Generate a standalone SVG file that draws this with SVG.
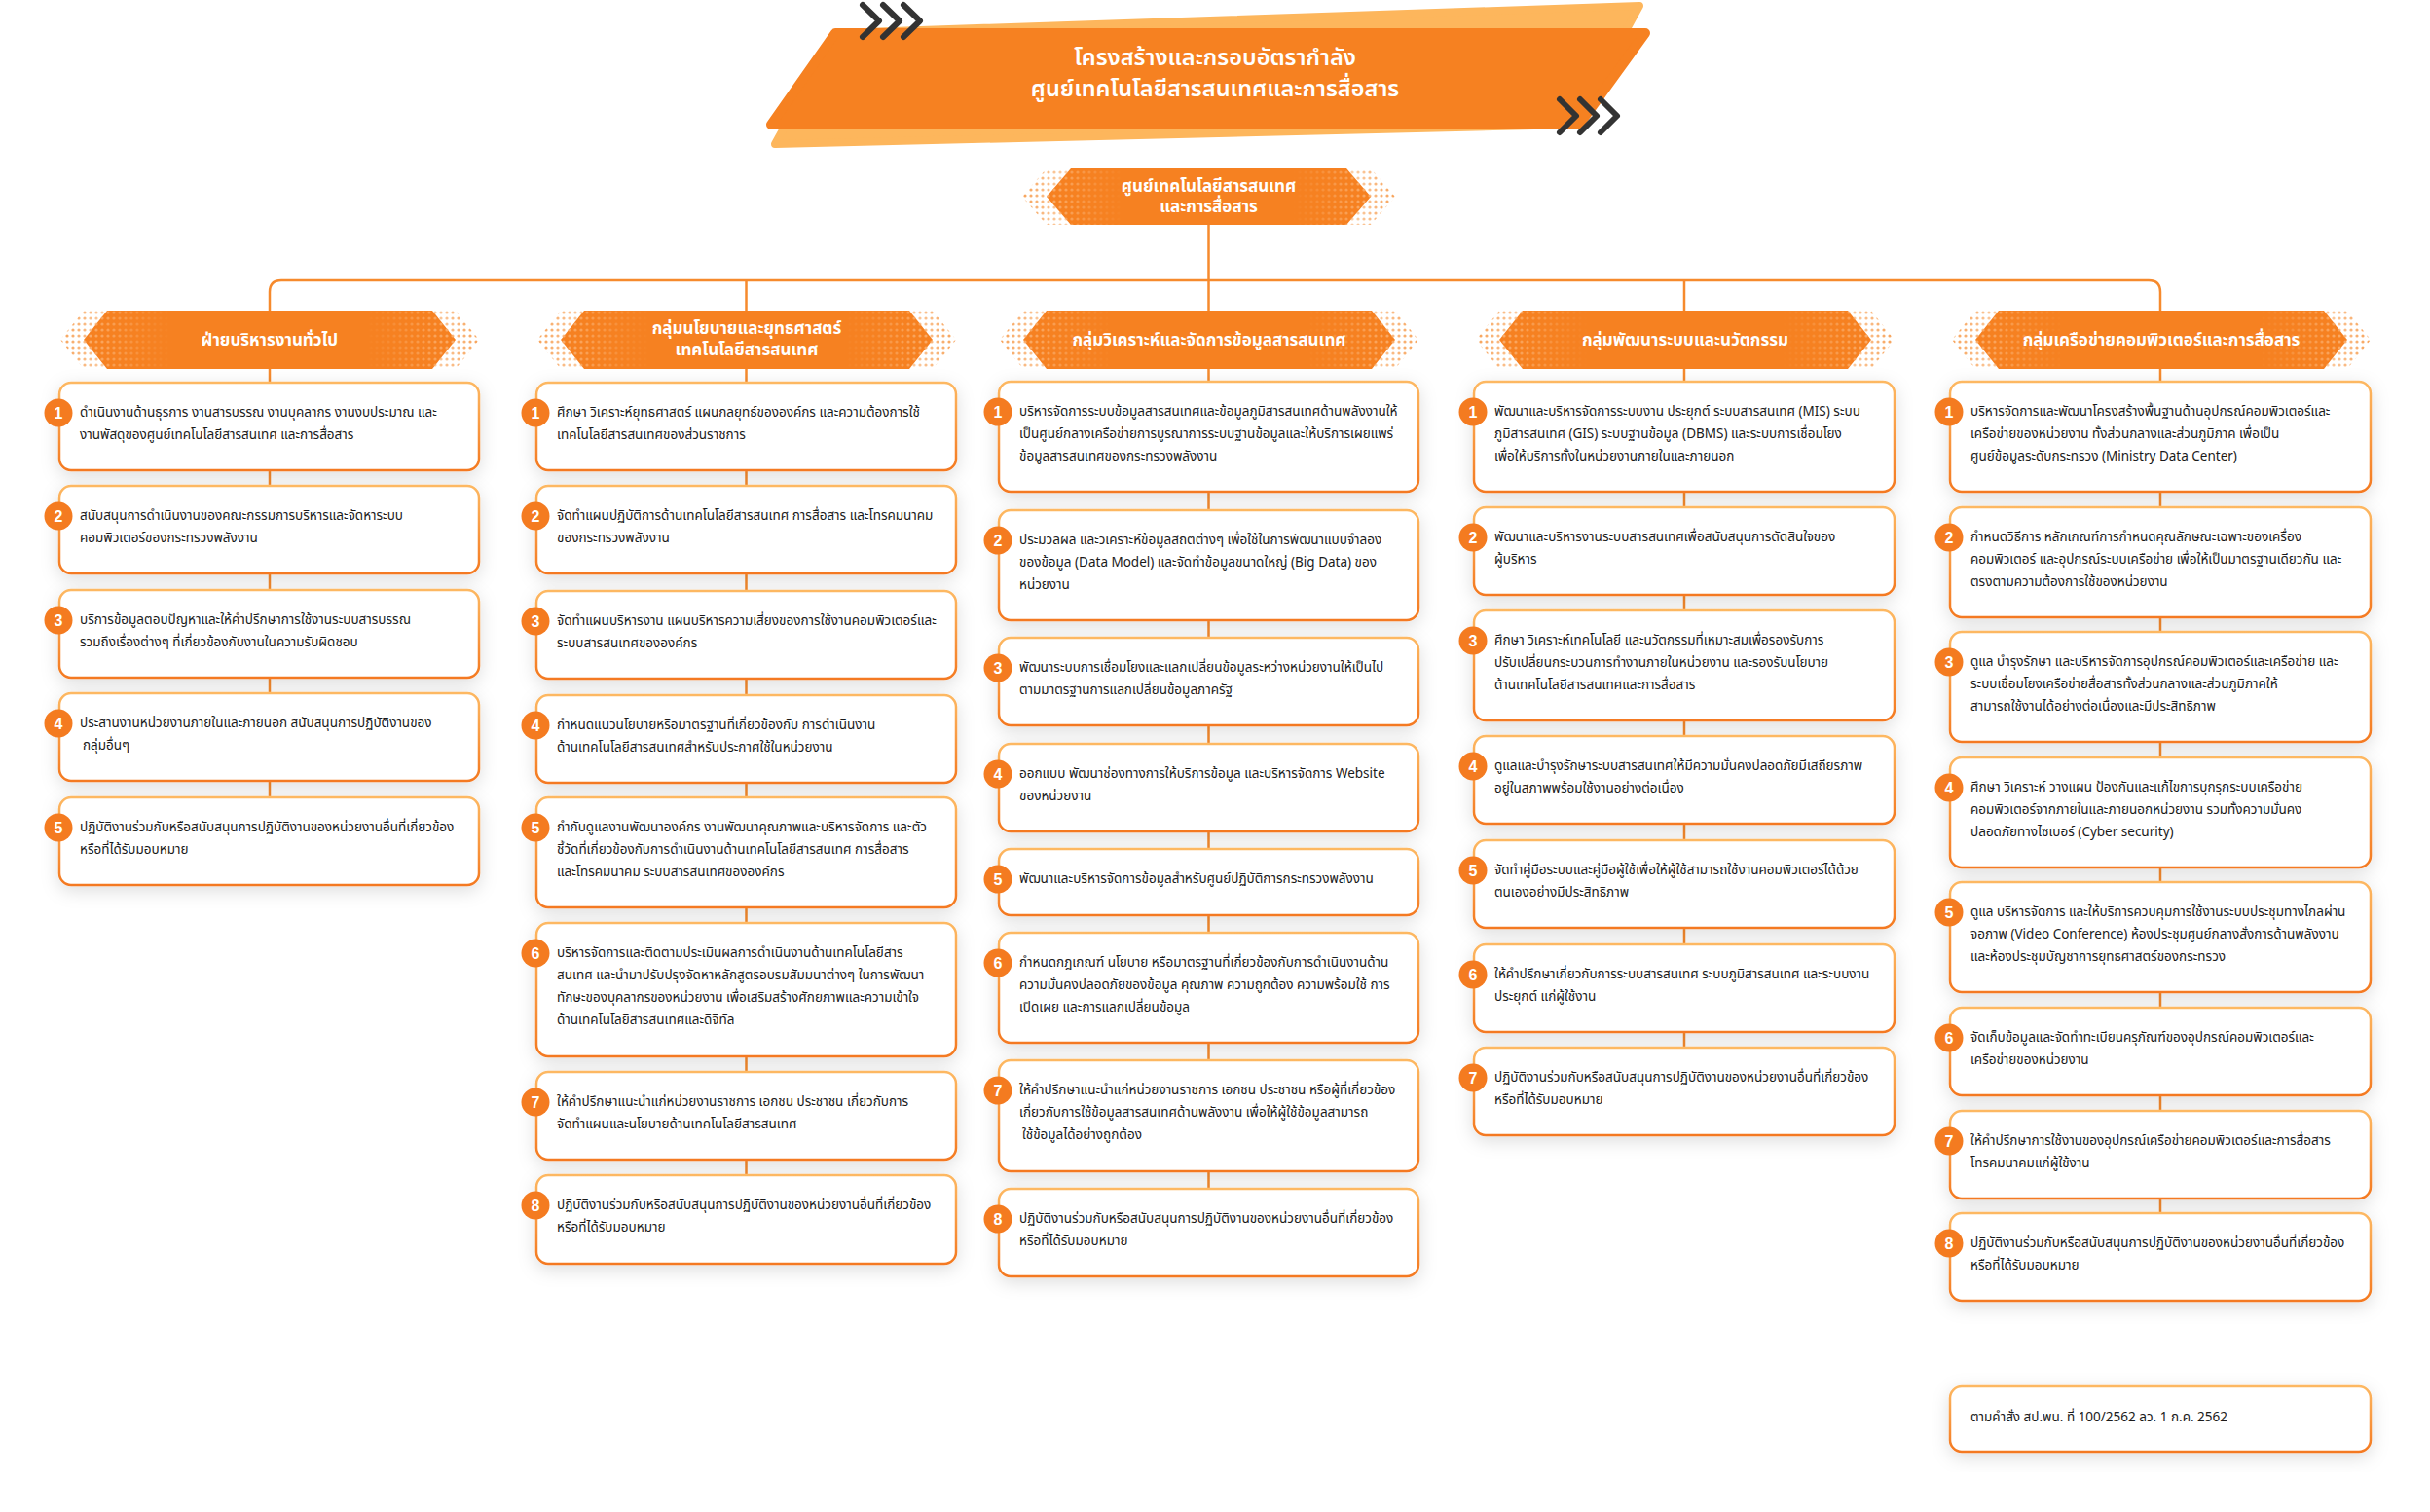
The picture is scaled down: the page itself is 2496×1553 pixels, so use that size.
<svg xmlns="http://www.w3.org/2000/svg" width="2496" height="1553" viewBox="0 0 2496 1553">
<style>
.th{font-family:"Noto Sans Thai","Noto Sans Thai UI","Noto Sans","DejaVu Sans",sans-serif;}
.body{font-size:13.5px;fill:#1a1a1a;}
.hdr{font-size:17px;fill:#fff;font-weight:700;text-anchor:middle;}
.title{font-size:23.5px;fill:#fff;font-weight:600;text-anchor:middle;}
.num{font-family:"Liberation Sans",Arial,sans-serif;font-weight:700;font-size:16px;fill:#fff;text-anchor:middle;}
.box{fill:#fff;stroke:url(#gStroke);stroke-width:2.5;filter:url(#sh);}
.badge{fill:#F47B20;}
.conn{stroke:#F68A2D;stroke-width:2.5;fill:none;}
.hex{fill:#F68121;}
.hexdots{fill:url(#dots);mask:url(#mEnds);}
.hexdots2{fill:url(#dots2);mask:url(#mEnds);}
.chev{fill:none;stroke:#333;stroke-width:6;stroke-linecap:round;stroke-linejoin:round;}
</style>
<defs>
<linearGradient id="gStroke" x1="0" y1="0" x2="0" y2="1"><stop offset="0" stop-color="#FDB862"/><stop offset="1" stop-color="#F47920"/></linearGradient>
<linearGradient id="gEnds" x1="0" y1="0" x2="1" y2="0"><stop offset="0" stop-color="#fff" stop-opacity="1"/><stop offset="0.24" stop-color="#fff" stop-opacity="0"/><stop offset="0.76" stop-color="#fff" stop-opacity="0"/><stop offset="1" stop-color="#fff" stop-opacity="1"/></linearGradient>
<mask id="mEnds" maskContentUnits="objectBoundingBox"><rect x="0" y="0" width="1" height="1" fill="url(#gEnds)"/></mask>
<pattern id="dots" width="6" height="6" patternUnits="userSpaceOnUse"><circle cx="3" cy="3" r="1.6" fill="#F7A35A"/></pattern>
<pattern id="dots2" width="6" height="6" patternUnits="userSpaceOnUse"><circle cx="3" cy="3" r="1.6" fill="#FCC08A"/></pattern>
<filter id="sh" x="-10%" y="-20%" width="120%" height="150%"><feDropShadow dx="0" dy="5" stdDeviation="9" flood-color="#000" flood-opacity="0.13"/></filter>
</defs>
<rect width="2496" height="1553" fill="#fff"/>

<g id="title">
<polygon points="796,148 859,34 1684,6 1617,128" fill="#FDB65C" stroke="#FDB65C" stroke-width="8" stroke-linejoin="round"/>
<polygon points="792,128 858,34 1690,34 1622,128" fill="#F68121" stroke="#F68121" stroke-width="10" stroke-linejoin="round"/>
<path class="chev" d="M886 5 L903 21.5 L886 38 M907 5 L924 21.5 L907 38 M928 5 L945 21.5 L928 38"/>
<path class="chev" d="M1602 102 L1619 119 L1602 136 M1623 102 L1640 119 L1623 136 M1644 102 L1661 119 L1644 136"/>
<text class="th title" y="67"><tspan x="1248">โครงสร้างและกรอบอัตรากำลัง</tspan><tspan x="1248" dy="32">ศูนย์เทคโนโลยีสารสนเทศและการสื่อสาร</tspan></text>
</g>

<g id="connectors">
<path class="conn" d="M1241.5 231 V319"/>
<path class="conn" d="M277 319 V300 Q277 288 289 288 H2207 Q2219 288 2219 300 V319 M766.5 288 V319 M1730 288 V319"/>
<path class="conn" d="M277 379 V393 M277 483 V499 M277 589 V606 M277 696 V712 M277 802 V819"/>
<path class="conn" d="M766.5 379 V393 M766.5 483 V499 M766.5 589 V607 M766.5 697 V714 M766.5 804 V819 M766.5 932 V948 M766.5 1085 V1101 M766.5 1191 V1207"/>
<path class="conn" d="M1241.5 379 V392 M1241.5 505 V524 M1241.5 637 V655 M1241.5 745 V764 M1241.5 854 V872 M1241.5 940 V958 M1241.5 1071 V1089 M1241.5 1203 V1221"/>
<path class="conn" d="M1730 379 V392 M1730 505 V521 M1730 611 V627 M1730 740 V756 M1730 846 V863 M1730 953 V970 M1730 1060 V1076"/>
<path class="conn" d="M2219 379 V392 M2219 505 V521 M2219 634 V649 M2219 762 V778 M2219 891 V906 M2219 1019 V1035 M2219 1125 V1141 M2219 1231 V1246"/>
</g>

<g id="center">
<polygon class="hexdots" points="1050,202 1075,173 1408,173 1433,202 1408,231 1075,231"/>
<polygon class="hex" points="1075,202 1100,173 1383,173 1408,202 1383,231 1100,231"/>
<polygon class="hexdots2" points="1075,202 1100,173 1383,173 1408,202 1383,231 1100,231" opacity="0.7"/>
<text class="th hdr" y="196.5"><tspan x="1241.5">ศูนย์เทคโนโลยีสารสนเทศ</tspan><tspan x="1241.5" dy="21.5">และการสื่อสาร</tspan></text>
</g>

<g id="h1">
<polygon class="hexdots" points="62,349 86,319 468,319 492,349 468,379 86,379"/>
<polygon class="hex" points="86,349 110,319 444,319 468,349 444,379 110,379"/>
<polygon class="hexdots2" points="86,349 110,319 444,319 468,349 444,379 110,379" opacity="0.7"/>
<text class="th hdr" x="277" y="355">ฝ่ายบริหารงานทั่วไป</text>
</g>
<g id="h2">
<polygon class="hexdots" points="552,349 576,319 958,319 982,349 958,379 576,379"/>
<polygon class="hex" points="576,349 600,319 934,319 958,349 934,379 600,379"/>
<polygon class="hexdots2" points="576,349 600,319 934,319 958,349 934,379 600,379" opacity="0.7"/>
<text class="th hdr" y="343"><tspan x="767">กลุ่มนโยบายและยุทธศาสตร์</tspan><tspan x="767" dy="21.5">เทคโนโลยีสารสนเทศ</tspan></text>
</g>
<g id="h3">
<polygon class="hexdots" points="1027,349 1051,319 1433,319 1457,349 1433,379 1051,379"/>
<polygon class="hex" points="1051,349 1075,319 1409,319 1433,349 1409,379 1075,379"/>
<polygon class="hexdots2" points="1051,349 1075,319 1409,319 1433,349 1409,379 1075,379" opacity="0.7"/>
<text class="th hdr" x="1242" y="355">กลุ่มวิเคราะห์และจัดการข้อมูลสารสนเทศ</text>
</g>
<g id="h4">
<polygon class="hexdots" points="1516,349 1540,319 1922,319 1946,349 1922,379 1540,379"/>
<polygon class="hex" points="1540,349 1564,319 1898,319 1922,349 1898,379 1564,379"/>
<polygon class="hexdots2" points="1540,349 1564,319 1898,319 1922,349 1898,379 1564,379" opacity="0.7"/>
<text class="th hdr" x="1731" y="355">กลุ่มพัฒนาระบบและนวัตกรรม</text>
</g>
<g id="h5">
<polygon class="hexdots" points="2005,349 2029,319 2411,319 2435,349 2411,379 2029,379"/>
<polygon class="hex" points="2029,349 2053,319 2387,319 2411,349 2387,379 2053,379"/>
<polygon class="hexdots2" points="2029,349 2053,319 2387,319 2411,349 2387,379 2053,379" opacity="0.7"/>
<text class="th hdr" x="2220" y="355">กลุ่มเครือข่ายคอมพิวเตอร์และการสื่อสาร</text>
</g>

<!-- Column 1 -->
<g id="c1n1"><rect class="box" x="61" y="393" width="431" height="90" rx="12"/><circle class="badge" cx="60" cy="424" r="14.5"/><text class="num" x="60" y="429.5">1</text><text class="th body" y="428"><tspan x="82">ดำเนินงานด้านธุรการ งานสารบรรณ งานบุคลากร งานงบประมาณ และ</tspan><tspan x="82" dy="23">งานพัสดุของศูนย์เทคโนโลยีสารสนเทศ และการสื่อสาร</tspan></text></g>
<g id="c1n2"><rect class="box" x="61" y="499" width="431" height="90" rx="12"/><circle class="badge" cx="60" cy="530" r="14.5"/><text class="num" x="60" y="535.5">2</text><text class="th body" y="534"><tspan x="82">สนับสนุนการดำเนินงานของคณะกรรมการบริหารและจัดหาระบบ</tspan><tspan x="82" dy="23">คอมพิวเตอร์ของกระทรวงพลังงาน</tspan></text></g>
<g id="c1n3"><rect class="box" x="61" y="606" width="431" height="90" rx="12"/><circle class="badge" cx="60" cy="637" r="14.5"/><text class="num" x="60" y="642.5">3</text><text class="th body" y="641"><tspan x="82">บริการข้อมูลตอบปัญหาและให้คำปรึกษาการใช้งานระบบสารบรรณ</tspan><tspan x="82" dy="23">รวมถึงเรื่องต่างๆ ที่เกี่ยวข้องกับงานในความรับผิดชอบ</tspan></text></g>
<g id="c1n4"><rect class="box" x="61" y="712" width="431" height="90" rx="12"/><circle class="badge" cx="60" cy="743" r="14.5"/><text class="num" x="60" y="748.5">4</text><text class="th body" y="747"><tspan x="82">ประสานงานหน่วยงานภายในและภายนอก สนับสนุนการปฏิบัติงานของ</tspan><tspan x="85" dy="23">กลุ่มอื่นๆ</tspan></text></g>
<g id="c1n5"><rect class="box" x="61" y="819" width="431" height="90" rx="12"/><circle class="badge" cx="60" cy="850" r="14.5"/><text class="num" x="60" y="855.5">5</text><text class="th body" y="854"><tspan x="82">ปฏิบัติงานร่วมกับหรือสนับสนุนการปฏิบัติงานของหน่วยงานอื่นที่เกี่ยวข้อง</tspan><tspan x="82" dy="23">หรือที่ได้รับมอบหมาย</tspan></text></g>

<!-- Column 2 -->
<g id="c2n1"><rect class="box" x="551" y="393" width="431" height="90" rx="12"/><circle class="badge" cx="550" cy="424" r="14.5"/><text class="num" x="550" y="429.5">1</text><text class="th body" y="428"><tspan x="572">ศึกษา วิเคราะห์ยุทธศาสตร์ แผนกลยุทธ์ขององค์กร และความต้องการใช้</tspan><tspan x="572" dy="23">เทคโนโลยีสารสนเทศของส่วนราชการ</tspan></text></g>
<g id="c2n2"><rect class="box" x="551" y="499" width="431" height="90" rx="12"/><circle class="badge" cx="550" cy="530" r="14.5"/><text class="num" x="550" y="535.5">2</text><text class="th body" y="534"><tspan x="572">จัดทำแผนปฏิบัติการด้านเทคโนโลยีสารสนเทศ การสื่อสาร และโทรคมนาคม</tspan><tspan x="572" dy="23">ของกระทรวงพลังงาน</tspan></text></g>
<g id="c2n3"><rect class="box" x="551" y="607" width="431" height="90" rx="12"/><circle class="badge" cx="550" cy="638" r="14.5"/><text class="num" x="550" y="643.5">3</text><text class="th body" y="642"><tspan x="572">จัดทำแผนบริหารงาน แผนบริหารความเสี่ยงของการใช้งานคอมพิวเตอร์และ</tspan><tspan x="572" dy="23">ระบบสารสนเทศขององค์กร</tspan></text></g>
<g id="c2n4"><rect class="box" x="551" y="714" width="431" height="90" rx="12"/><circle class="badge" cx="550" cy="745" r="14.5"/><text class="num" x="550" y="750.5">4</text><text class="th body" y="749"><tspan x="572">กำหนดแนวนโยบายหรือมาตรฐานที่เกี่ยวข้องกับ การดำเนินงาน</tspan><tspan x="572" dy="23">ด้านเทคโนโลยีสารสนเทศสำหรับประกาศใช้ในหน่วยงาน</tspan></text></g>
<g id="c2n5"><rect class="box" x="551" y="819" width="431" height="113" rx="12"/><circle class="badge" cx="550" cy="850" r="14.5"/><text class="num" x="550" y="855.5">5</text><text class="th body" y="854"><tspan x="572">กำกับดูแลงานพัฒนาองค์กร งานพัฒนาคุณภาพและบริหารจัดการ และตัว</tspan><tspan x="572" dy="23">ชี้วัดที่เกี่ยวข้องกับการดำเนินงานด้านเทคโนโลยีสารสนเทศ การสื่อสาร</tspan><tspan x="572" dy="23">และโทรคมนาคม ระบบสารสนเทศขององค์กร</tspan></text></g>
<g id="c2n6"><rect class="box" x="551" y="948" width="431" height="137" rx="12"/><circle class="badge" cx="550" cy="979" r="14.5"/><text class="num" x="550" y="984.5">6</text><text class="th body" y="983"><tspan x="572">บริหารจัดการและติดตามประเมินผลการดำเนินงานด้านเทคโนโลยีสาร</tspan><tspan x="572" dy="23">สนเทศ และนำมาปรับปรุงจัดหาหลักสูตรอบรมสัมมนาต่างๆ ในการพัฒนา</tspan><tspan x="572" dy="23">ทักษะของบุคลากรของหน่วยงาน เพื่อเสริมสร้างศักยภาพและความเข้าใจ</tspan><tspan x="572" dy="23">ด้านเทคโนโลยีสารสนเทศและดิจิทัล</tspan></text></g>
<g id="c2n7"><rect class="box" x="551" y="1101" width="431" height="90" rx="12"/><circle class="badge" cx="550" cy="1132" r="14.5"/><text class="num" x="550" y="1137.5">7</text><text class="th body" y="1136"><tspan x="572">ให้คำปรึกษาแนะนำแก่หน่วยงานราชการ เอกชน ประชาชน เกี่ยวกับการ</tspan><tspan x="572" dy="23">จัดทำแผนและนโยบายด้านเทคโนโลยีสารสนเทศ</tspan></text></g>
<g id="c2n8"><rect class="box" x="551" y="1207" width="431" height="91" rx="12"/><circle class="badge" cx="550" cy="1238" r="14.5"/><text class="num" x="550" y="1243.5">8</text><text class="th body" y="1242"><tspan x="572">ปฏิบัติงานร่วมกับหรือสนับสนุนการปฏิบัติงานของหน่วยงานอื่นที่เกี่ยวข้อง</tspan><tspan x="572" dy="23">หรือที่ได้รับมอบหมาย</tspan></text></g>

<!-- Column 3 -->
<g id="c3n1"><rect class="box" x="1026" y="392" width="431" height="113" rx="12"/><circle class="badge" cx="1025" cy="423" r="14.5"/><text class="num" x="1025" y="428.5">1</text><text class="th body" y="427"><tspan x="1047">บริหารจัดการระบบข้อมูลสารสนเทศและข้อมูลภูมิสารสนเทศด้านพลังงานให้</tspan><tspan x="1047" dy="23">เป็นศูนย์กลางเครือข่ายการบูรณาการระบบฐานข้อมูลและให้บริการเผยแพร่</tspan><tspan x="1047" dy="23">ข้อมูลสารสนเทศของกระทรวงพลังงาน</tspan></text></g>
<g id="c3n2"><rect class="box" x="1026" y="524" width="431" height="113" rx="12"/><circle class="badge" cx="1025" cy="555" r="14.5"/><text class="num" x="1025" y="560.5">2</text><text class="th body" y="559"><tspan x="1047">ประมวลผล และวิเคราะห์ข้อมูลสถิติต่างๆ เพื่อใช้ในการพัฒนาแบบจำลอง</tspan><tspan x="1047" dy="23">ของข้อมูล (Data Model) และจัดทำข้อมูลขนาดใหญ่ (Big Data) ของ</tspan><tspan x="1047" dy="23">หน่วยงาน</tspan></text></g>
<g id="c3n3"><rect class="box" x="1026" y="655" width="431" height="90" rx="12"/><circle class="badge" cx="1025" cy="686" r="14.5"/><text class="num" x="1025" y="691.5">3</text><text class="th body" y="690"><tspan x="1047">พัฒนาระบบการเชื่อมโยงและแลกเปลี่ยนข้อมูลระหว่างหน่วยงานให้เป็นไป</tspan><tspan x="1047" dy="23">ตามมาตรฐานการแลกเปลี่ยนข้อมูลภาครัฐ</tspan></text></g>
<g id="c3n4"><rect class="box" x="1026" y="764" width="431" height="90" rx="12"/><circle class="badge" cx="1025" cy="795" r="14.5"/><text class="num" x="1025" y="800.5">4</text><text class="th body" y="799"><tspan x="1047">ออกแบบ พัฒนาช่องทางการให้บริการข้อมูล และบริหารจัดการ Website</tspan><tspan x="1047" dy="23">ของหน่วยงาน</tspan></text></g>
<g id="c3n5"><rect class="box" x="1026" y="872" width="431" height="68" rx="12"/><circle class="badge" cx="1025" cy="903" r="14.5"/><text class="num" x="1025" y="908.5">5</text><text class="th body" x="1047" y="907">พัฒนาและบริหารจัดการข้อมูลสำหรับศูนย์ปฏิบัติการกระทรวงพลังงาน</text></g>
<g id="c3n6"><rect class="box" x="1026" y="958" width="431" height="113" rx="12"/><circle class="badge" cx="1025" cy="989" r="14.5"/><text class="num" x="1025" y="994.5">6</text><text class="th body" y="993"><tspan x="1047">กำหนดกฎเกณฑ์ นโยบาย หรือมาตรฐานที่เกี่ยวข้องกับการดำเนินงานด้าน</tspan><tspan x="1047" dy="23">ความมั่นคงปลอดภัยของข้อมูล คุณภาพ ความถูกต้อง ความพร้อมใช้ การ</tspan><tspan x="1047" dy="23">เปิดเผย และการแลกเปลี่ยนข้อมูล</tspan></text></g>
<g id="c3n7"><rect class="box" x="1026" y="1089" width="431" height="114" rx="12"/><circle class="badge" cx="1025" cy="1120" r="14.5"/><text class="num" x="1025" y="1125.5">7</text><text class="th body" y="1124"><tspan x="1047">ให้คำปรึกษาแนะนำแก่หน่วยงานราชการ เอกชน ประชาชน หรือผู้ที่เกี่ยวข้อง</tspan><tspan x="1047" dy="23">เกี่ยวกับการใช้ข้อมูลสารสนเทศด้านพลังงาน เพื่อให้ผู้ใช้ข้อมูลสามารถ</tspan><tspan x="1050" dy="23">ใช้ข้อมูลได้อย่างถูกต้อง</tspan></text></g>
<g id="c3n8"><rect class="box" x="1026" y="1221" width="431" height="90" rx="12"/><circle class="badge" cx="1025" cy="1252" r="14.5"/><text class="num" x="1025" y="1257.5">8</text><text class="th body" y="1256"><tspan x="1047">ปฏิบัติงานร่วมกับหรือสนับสนุนการปฏิบัติงานของหน่วยงานอื่นที่เกี่ยวข้อง</tspan><tspan x="1047" dy="23">หรือที่ได้รับมอบหมาย</tspan></text></g>

<!-- Column 4 -->
<g id="c4n1"><rect class="box" x="1514" y="392" width="432" height="113" rx="12"/><circle class="badge" cx="1513" cy="423" r="14.5"/><text class="num" x="1513" y="428.5">1</text><text class="th body" y="427"><tspan x="1535">พัฒนาและบริหารจัดการระบบงาน ประยุกต์ ระบบสารสนเทศ (MIS) ระบบ</tspan><tspan x="1535" dy="23">ภูมิสารสนเทศ (GIS) ระบบฐานข้อมูล (DBMS) และระบบการเชื่อมโยง</tspan><tspan x="1535" dy="23">เพื่อให้บริการทั้งในหน่วยงานภายในและภายนอก</tspan></text></g>
<g id="c4n2"><rect class="box" x="1514" y="521" width="432" height="90" rx="12"/><circle class="badge" cx="1513" cy="552" r="14.5"/><text class="num" x="1513" y="557.5">2</text><text class="th body" y="556"><tspan x="1535">พัฒนาและบริหารงานระบบสารสนเทศเพื่อสนับสนุนการตัดสินใจของ</tspan><tspan x="1535" dy="23">ผู้บริหาร</tspan></text></g>
<g id="c4n3"><rect class="box" x="1514" y="627" width="432" height="113" rx="12"/><circle class="badge" cx="1513" cy="658" r="14.5"/><text class="num" x="1513" y="663.5">3</text><text class="th body" y="662"><tspan x="1535">ศึกษา วิเคราะห์เทคโนโลยี และนวัตกรรมที่เหมาะสมเพื่อรองรับการ</tspan><tspan x="1535" dy="23">ปรับเปลี่ยนกระบวนการทำงานภายในหน่วยงาน และรองรับนโยบาย</tspan><tspan x="1535" dy="23">ด้านเทคโนโลยีสารสนเทศและการสื่อสาร</tspan></text></g>
<g id="c4n4"><rect class="box" x="1514" y="756" width="432" height="90" rx="12"/><circle class="badge" cx="1513" cy="787" r="14.5"/><text class="num" x="1513" y="792.5">4</text><text class="th body" y="791"><tspan x="1535">ดูแลและบำรุงรักษาระบบสารสนเทศให้มีความมั่นคงปลอดภัยมีเสถียรภาพ</tspan><tspan x="1535" dy="23">อยู่ในสภาพพร้อมใช้งานอย่างต่อเนื่อง</tspan></text></g>
<g id="c4n5"><rect class="box" x="1514" y="863" width="432" height="90" rx="12"/><circle class="badge" cx="1513" cy="894" r="14.5"/><text class="num" x="1513" y="899.5">5</text><text class="th body" y="898"><tspan x="1535">จัดทำคู่มือระบบและคู่มือผู้ใช้เพื่อให้ผู้ใช้สามารถใช้งานคอมพิวเตอร์ได้ด้วย</tspan><tspan x="1535" dy="23">ตนเองอย่างมีประสิทธิภาพ</tspan></text></g>
<g id="c4n6"><rect class="box" x="1514" y="970" width="432" height="90" rx="12"/><circle class="badge" cx="1513" cy="1001" r="14.5"/><text class="num" x="1513" y="1006.5">6</text><text class="th body" y="1005"><tspan x="1535">ให้คำปรึกษาเกี่ยวกับการระบบสารสนเทศ ระบบภูมิสารสนเทศ และระบบงาน</tspan><tspan x="1535" dy="23">ประยุกต์ แก่ผู้ใช้งาน</tspan></text></g>
<g id="c4n7"><rect class="box" x="1514" y="1076" width="432" height="90" rx="12"/><circle class="badge" cx="1513" cy="1107" r="14.5"/><text class="num" x="1513" y="1112.5">7</text><text class="th body" y="1111"><tspan x="1535">ปฏิบัติงานร่วมกับหรือสนับสนุนการปฏิบัติงานของหน่วยงานอื่นที่เกี่ยวข้อง</tspan><tspan x="1535" dy="23">หรือที่ได้รับมอบหมาย</tspan></text></g>

<!-- Column 5 -->
<g id="c5n1"><rect class="box" x="2003" y="392" width="432" height="113" rx="12"/><circle class="badge" cx="2002" cy="423" r="14.5"/><text class="num" x="2002" y="428.5">1</text><text class="th body" y="427"><tspan x="2024">บริหารจัดการและพัฒนาโครงสร้างพื้นฐานด้านอุปกรณ์คอมพิวเตอร์และ</tspan><tspan x="2024" dy="23">เครือข่ายของหน่วยงาน ทั้งส่วนกลางและส่วนภูมิภาค เพื่อเป็น</tspan><tspan x="2024" dy="23">ศูนย์ข้อมูลระดับกระทรวง (Ministry Data Center)</tspan></text></g>
<g id="c5n2"><rect class="box" x="2003" y="521" width="432" height="113" rx="12"/><circle class="badge" cx="2002" cy="552" r="14.5"/><text class="num" x="2002" y="557.5">2</text><text class="th body" y="556"><tspan x="2024">กำหนดวิธีการ หลักเกณฑ์การกำหนดคุณลักษณะเฉพาะของเครื่อง</tspan><tspan x="2024" dy="23">คอมพิวเตอร์ และอุปกรณ์ระบบเครือข่าย เพื่อให้เป็นมาตรฐานเดียวกัน และ</tspan><tspan x="2024" dy="23">ตรงตามความต้องการใช้ของหน่วยงาน</tspan></text></g>
<g id="c5n3"><rect class="box" x="2003" y="649" width="432" height="113" rx="12"/><circle class="badge" cx="2002" cy="680" r="14.5"/><text class="num" x="2002" y="685.5">3</text><text class="th body" y="684"><tspan x="2024">ดูแล บำรุงรักษา และบริหารจัดการอุปกรณ์คอมพิวเตอร์และเครือข่าย และ</tspan><tspan x="2024" dy="23">ระบบเชื่อมโยงเครือข่ายสื่อสารทั้งส่วนกลางและส่วนภูมิภาคให้</tspan><tspan x="2024" dy="23">สามารถใช้งานได้อย่างต่อเนื่องและมีประสิทธิภาพ</tspan></text></g>
<g id="c5n4"><rect class="box" x="2003" y="778" width="432" height="113" rx="12"/><circle class="badge" cx="2002" cy="809" r="14.5"/><text class="num" x="2002" y="814.5">4</text><text class="th body" y="813"><tspan x="2024">ศึกษา วิเคราะห์ วางแผน ป้องกันและแก้ไขการบุกรุกระบบเครือข่าย</tspan><tspan x="2024" dy="23">คอมพิวเตอร์จากภายในและภายนอกหน่วยงาน รวมทั้งความมั่นคง</tspan><tspan x="2024" dy="23">ปลอดภัยทางไซเบอร์ (Cyber security)</tspan></text></g>
<g id="c5n5"><rect class="box" x="2003" y="906" width="432" height="113" rx="12"/><circle class="badge" cx="2002" cy="937" r="14.5"/><text class="num" x="2002" y="942.5">5</text><text class="th body" y="941"><tspan x="2024">ดูแล บริหารจัดการ และให้บริการควบคุมการใช้งานระบบประชุมทางไกลผ่าน</tspan><tspan x="2024" dy="23">จอภาพ (Video Conference) ห้องประชุมศูนย์กลางสั่งการด้านพลังงาน</tspan><tspan x="2024" dy="23">และห้องประชุมบัญชาการยุทธศาสตร์ของกระทรวง</tspan></text></g>
<g id="c5n6"><rect class="box" x="2003" y="1035" width="432" height="90" rx="12"/><circle class="badge" cx="2002" cy="1066" r="14.5"/><text class="num" x="2002" y="1071.5">6</text><text class="th body" y="1070"><tspan x="2024">จัดเก็บข้อมูลและจัดทำทะเบียนครุภัณฑ์ของอุปกรณ์คอมพิวเตอร์และ</tspan><tspan x="2024" dy="23">เครือข่ายของหน่วยงาน</tspan></text></g>
<g id="c5n7"><rect class="box" x="2003" y="1141" width="432" height="90" rx="12"/><circle class="badge" cx="2002" cy="1172" r="14.5"/><text class="num" x="2002" y="1177.5">7</text><text class="th body" y="1176"><tspan x="2024">ให้คำปรึกษาการใช้งานของอุปกรณ์เครือข่ายคอมพิวเตอร์และการสื่อสาร</tspan><tspan x="2024" dy="23">โทรคมนาคมแก่ผู้ใช้งาน</tspan></text></g>
<g id="c5n8"><rect class="box" x="2003" y="1246" width="432" height="90" rx="12"/><circle class="badge" cx="2002" cy="1277" r="14.5"/><text class="num" x="2002" y="1282.5">8</text><text class="th body" y="1281"><tspan x="2024">ปฏิบัติงานร่วมกับหรือสนับสนุนการปฏิบัติงานของหน่วยงานอื่นที่เกี่ยวข้อง</tspan><tspan x="2024" dy="23">หรือที่ได้รับมอบหมาย</tspan></text></g>

<g id="footnote"><rect class="box" x="2003" y="1424" width="432" height="67" rx="12"/><text class="th body" x="2024" y="1460">ตามคำสั่ง สป.พน. ที่ 100/2562 ลว. 1 ก.ค. 2562</text></g>
</svg>
